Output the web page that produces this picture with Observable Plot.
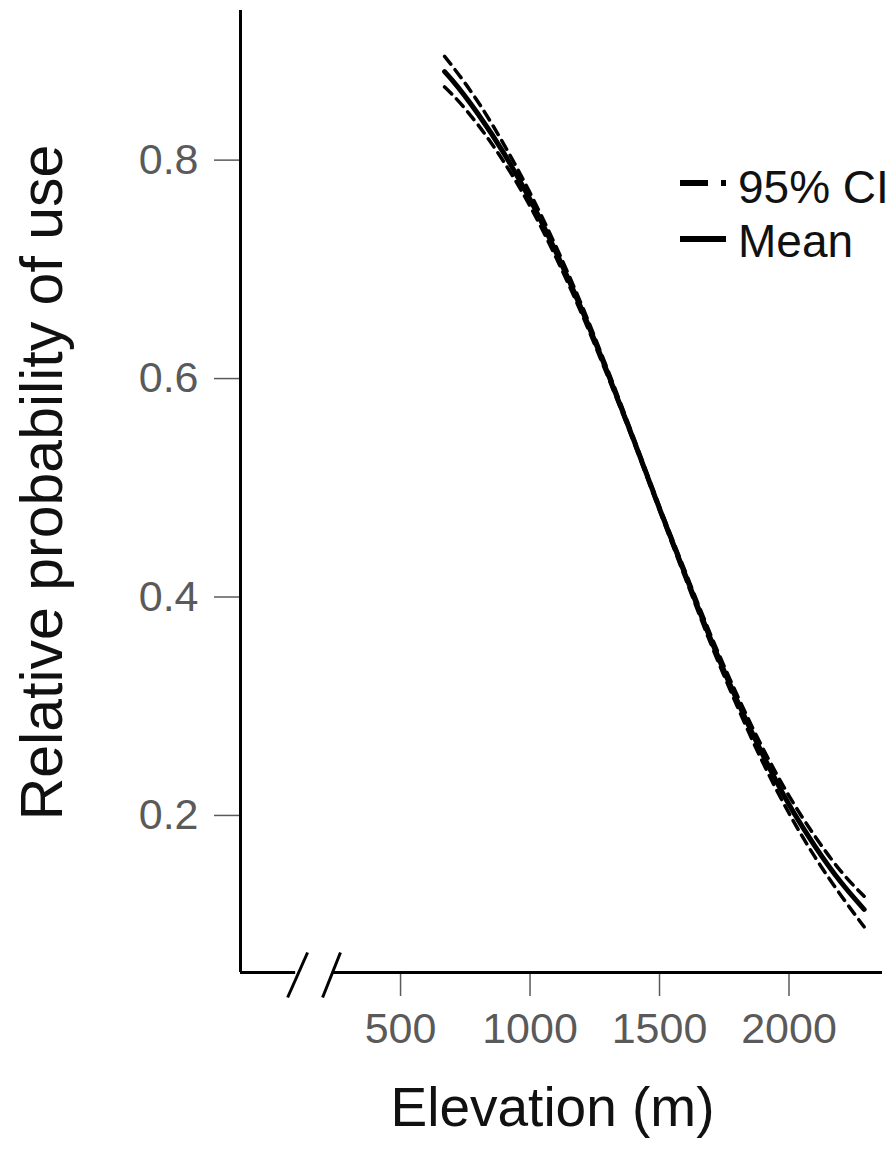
<!DOCTYPE html>
<html><head><meta charset="utf-8">
<script src="https://cdn.jsdelivr.net/npm/d3@7"></script>
<script src="https://cdn.jsdelivr.net/npm/@observablehq/plot@0.6"></script>
<style>
body{margin:0;background:#fff;font-family:"Liberation Sans",Arial,sans-serif;}
#wrap{position:relative;width:896px;height:1152px;}
#legend{position:absolute;left:670px;top:150px;}
</style></head><body><div id="wrap"></div>
<script>
// Data
const elevation = [670, 700, 800, 900, 1000, 1100, 1200, 1300, 1400, 1500, 1600, 1700, 1800, 1900, 2000, 2100, 2200, 2290];
const meanProb  = [0.881, 0.873, 0.842, 0.806, 0.764, 0.716, 0.663, 0.605, 0.544, 0.481, 0.420, 0.360, 0.305, 0.255, 0.210, 0.172, 0.139, 0.114];
const upperCI   = [0.895, 0.886, 0.853, 0.814, 0.770, 0.721, 0.667, 0.608, 0.546, 0.483, 0.423, 0.364, 0.310, 0.261, 0.218, 0.181, 0.149, 0.126];
const lowerCI   = [0.867, 0.860, 0.832, 0.798, 0.758, 0.711, 0.659, 0.602, 0.542, 0.479, 0.417, 0.356, 0.300, 0.248, 0.202, 0.162, 0.127, 0.098];

const xTicks = [500, 1000, 1500, 2000];
const yTicks = [0.2, 0.4, 0.6, 0.8];
const xDomain = [-118, 2361];
const yDomain = [0.0562, 0.937];
const xLabel = "Elevation (m)";
const yLabel = "Relative probability of use";
const legendLabels = ["95% CI", "Mean"];

// axis break (in data units)
const axisSegments = [{x1: -118, x2: 95}, {x1: 241, x2: 2361}];
const breakSlashes = [
  {xa: 64, ya: 0.0333, xb: 141, yb: 0.0745},
  {xa: 199, ya: 0.0333, xb: 268, yb: 0.0745}
];

const rows = elevation.map((e, i) => ({elev: e, mean: meanProb[i], upper: upperCI[i], lower: lowerCI[i]}));

const chart = Plot.plot({
  width: 896,
  height: 1152,
  marginLeft: 240,
  marginRight: 14,
  marginTop: 10,
  marginBottom: 180,
  x: {domain: xDomain},
  y: {domain: yDomain},
  style: {fontFamily: "'Liberation Sans', Arial, sans-serif", fontSize: "43px", background: "white", overflow: "visible"},
  marks: [
    Plot.axisX({ticks: xTicks, tickSize: 24, tickPadding: 16, tickFormat: "d", color: "#5a5a5a", label: null, strokeWidth: 1.5}),
    Plot.axisY({ticks: yTicks, tickSize: 26, tickPadding: 16, tickFormat: ".1f", color: "#5a5a5a", label: null, strokeWidth: 1.5}),
    Plot.ruleX([xDomain[0]], {y1: yDomain[0], y2: yDomain[1], stroke: "black", strokeWidth: 3}),
    Plot.ruleY(axisSegments, {y: yDomain[0], x1: "x1", x2: "x2", stroke: "black", strokeWidth: 3}),
    Plot.link(breakSlashes, {x1: "xa", y1: "ya", x2: "xb", y2: "yb", stroke: "black", strokeWidth: 3}),
    Plot.line(rows, {x: "elev", y: "upper", stroke: "black", strokeWidth: 3.5, strokeDasharray: "10,7", curve: "monotone-x"}),
    Plot.line(rows, {x: "elev", y: "lower", stroke: "black", strokeWidth: 3.5, strokeDasharray: "10,7", curve: "monotone-x"}),
    Plot.line(rows, {x: "elev", y: "mean", stroke: "black", strokeWidth: 5, curve: "monotone-x"}),
    Plot.text([yLabel], {frameAnchor: "left", textAnchor: "middle", lineAnchor: "middle", rotate: -90, dx: -197, dy: -9, fontSize: 59, fill: "#111"}),
    Plot.text([xLabel], {frameAnchor: "bottom", textAnchor: "middle", lineAnchor: "middle", dx: -9, dy: 136, fontSize: 55, fill: "#111"})
  ]
});

const wrap = document.getElementById("wrap");
wrap.appendChild(chart);

// Legend overlay
const ns = "http://www.w3.org/2000/svg";
const lg = document.createElementNS(ns, "svg");
lg.setAttribute("id", "legend");
lg.setAttribute("width", 226);
lg.setAttribute("height", 120);
const items = [
  {label: legendLabels[0], dash: "28 13 5 100", y: 33, ty: 53},
  {label: legendLabels[1], dash: null, y: 89, ty: 107}
];
for (const it of items) {
  const l = document.createElementNS(ns, "line");
  l.setAttribute("x1", 10); l.setAttribute("x2", 56);
  l.setAttribute("y1", it.y); l.setAttribute("y2", it.y);
  l.setAttribute("stroke", "black"); l.setAttribute("stroke-width", 6);
  if (it.dash) l.setAttribute("stroke-dasharray", it.dash);
  lg.appendChild(l);
  const t = document.createElementNS(ns, "text");
  t.setAttribute("x", 68); t.setAttribute("y", it.ty);
  t.setAttribute("font-size", 46);
  t.setAttribute("font-family", "'Liberation Sans', Arial, sans-serif");
  t.setAttribute("fill", "#111");
  t.textContent = it.label;
  lg.appendChild(t);
}
wrap.appendChild(lg);
</script></body></html>
